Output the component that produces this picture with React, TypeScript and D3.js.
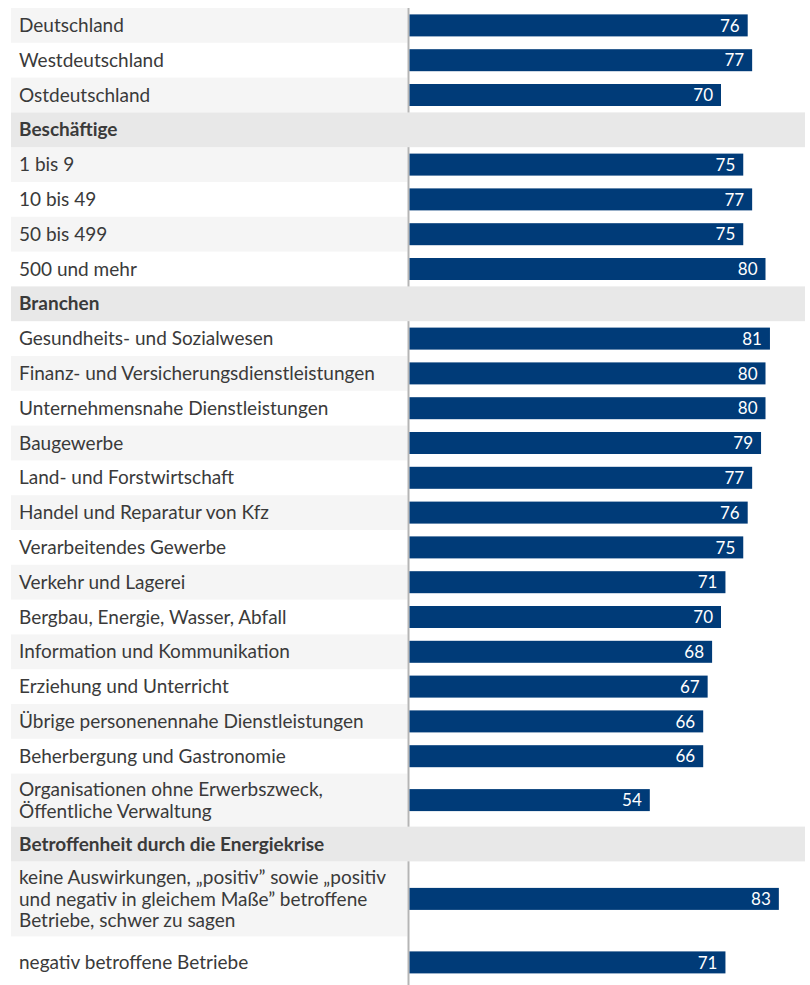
import * as d3 from 'd3';

// Werte
const regionLabels = ['Deutschland', 'Westdeutschland', 'Ostdeutschland'];
const regionValues = [76, 77, 70];

const sizeHeader = 'Beschäftige';
const sizeLabels = ['1 bis 9', '10 bis 49', '50 bis 499', '500 und mehr'];
const sizeValues = [75, 77, 75, 80];

const branchHeader = 'Branchen';
const branchLabels = [
  'Gesundheits- und Sozialwesen',
  'Finanz- und Versicherungsdienstleistungen',
  'Unternehmensnahe Dienstleistungen',
  'Baugewerbe',
  'Land- und Forstwirtschaft',
  'Handel und Reparatur von Kfz',
  'Verarbeitendes Gewerbe',
  'Verkehr und Lagerei',
  'Bergbau, Energie, Wasser, Abfall',
  'Information und Kommunikation',
  'Erziehung und Unterricht',
  'Übrige personenennahe Dienstleistungen',
  'Beherbergung und Gastronomie',
  'Organisationen ohne Erwerbszweck,\nÖffentliche Verwaltung',
];
const branchValues = [81, 80, 80, 79, 77, 76, 75, 71, 70, 68, 67, 66, 66, 54];

const crisisHeader = 'Betroffenheit durch die Energiekrise';
const crisisLabels = [
  'keine Auswirkungen, „positiv” sowie „positiv\nund negativ in gleichem Maße” betroffene\nBetriebe, schwer zu sagen',
  'negativ betroffene Betriebe',
];
const crisisValues = [83, 71];

const BAR_COLOR = '#003b78';
const TEXT_COLOR = '#3a3a3a';
const STRIPE = '#f5f5f5';
const HEADER_BG = '#e8e8e8';
const AXIS_COLOR = '#b5b5b5';
const FONT = 'Lato, "Noto Sans", sans-serif';

type Row = { kind: 'header' | 'bar'; label: string; value?: number };

const rows: Row[] = [
  ...regionLabels.map((l, i) => ({ kind: 'bar' as const, label: l, value: regionValues[i] })),
  { kind: 'header', label: sizeHeader },
  ...sizeLabels.map((l, i) => ({ kind: 'bar' as const, label: l, value: sizeValues[i] })),
  { kind: 'header', label: branchHeader },
  ...branchLabels.map((l, i) => ({ kind: 'bar' as const, label: l, value: branchValues[i] })),
  { kind: 'header', label: crisisHeader },
  ...crisisLabels.map((l, i) => ({ kind: 'bar' as const, label: l, value: crisisValues[i] })),
];

const W = 810;
const H = 985;
const TOP = 8;
const LEFT = 11;
const AXIS_X = 408.5;
const RIGHT = 805;
const BAR_H = 22;
const LINE_H = 21.7;

const rowHeight = (lines: number, last: boolean) => {
  if (last) return 52;
  return lines === 1 ? 34.8 : lines === 2 ? 53 : 75;
};

export default function App() {
  const x = d3.scaleLinear().domain([0, 100]).range([AXIS_X + 1, AXIS_X + 1 + 445]);

  let y = TOP;
  const layout = rows.map((r, i) => {
    const lines = r.label.split('\n');
    const h = rowHeight(lines.length, i === rows.length - 1);
    const item = { ...r, lines, y0: y, h, index: i };
    y += h;
    return item;
  });

  return (
    <svg
      width={W}
      height={H}
      style={{ position: 'absolute', left: 0, top: 0, fontFamily: FONT }}
    >
      <rect x={0} y={0} width={W} height={H} fill="#fff" />
      {/* Zebra-Streifen im Beschriftungsbereich */}
      {layout.filter(r => r.kind === 'bar' && r.index % 2 === 0).map(r => (
        <rect key={'s' + r.index} x={LEFT} y={r.y0} width={AXIS_X - 1 - LEFT} height={r.h} fill={STRIPE} />
      ))}
      {/* Achse */}
      <line x1={AXIS_X} x2={AXIS_X} y1={TOP} y2={H} stroke={AXIS_COLOR} strokeWidth={2} />
      {layout.map(r => {
        const cy = r.y0 + r.h / 2;
        if (r.kind === 'header') {
          return (
            <g key={r.index}>
              <rect x={LEFT} y={r.y0} width={RIGHT - LEFT} height={r.h} fill={HEADER_BG} />
              <text x={19} y={cy} dy="0.35em" fontSize={19} fontWeight="bold" fill={TEXT_COLOR}>
                {r.label}
              </text>
            </g>
          );
        }
        const startY = cy - ((r.lines.length - 1) * LINE_H) / 2;
        return (
          <g key={r.index}>
            <text x={19} fontSize={19} fill={TEXT_COLOR}>
              {r.lines.map((l, j) => (
                <tspan key={j} x={19} y={startY + j * LINE_H} dy="0.35em">{l}</tspan>
              ))}
            </text>
            <rect
              x={x(0)}
              y={cy - BAR_H / 2}
              width={x(r.value!) - x(0)}
              height={BAR_H}
              fill={BAR_COLOR}
            />
            <text
              x={x(r.value!) - 8}
              y={cy}
              dy="0.36em"
              textAnchor="end"
              fontSize={17}
              fill="#fff"
            >
              {r.value}
            </text>
          </g>
        );
      })}
    </svg>
  );
}
